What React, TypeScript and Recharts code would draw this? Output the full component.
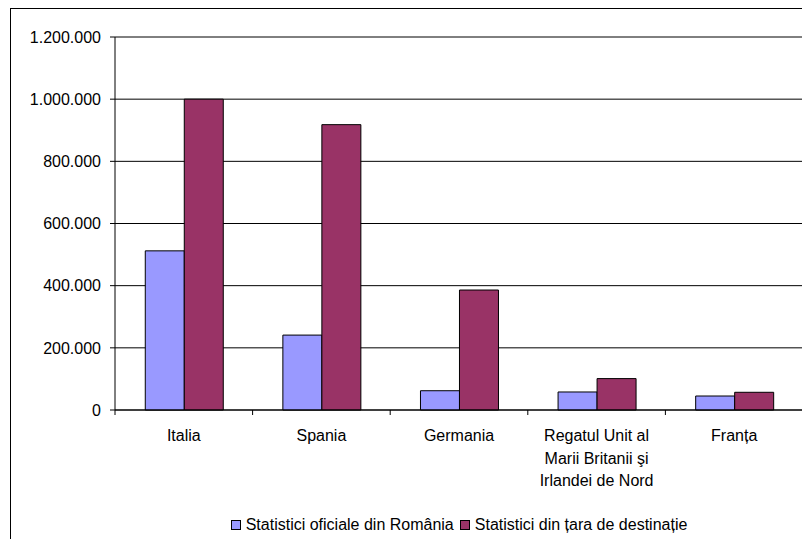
import React from 'react';
import { BarChart, Bar, XAxis, YAxis, CartesianGrid, Legend } from 'recharts';

const countries = ['Italia', 'Spania', 'Germania', 'Regatul Unit al Marii Britanii şi Irlandei de Nord', 'Franța'];
const oficialeRomania = [512000, 241000, 62000, 58000, 45000];
const taraDestinatie = [1000000, 918000, 386000, 101000, 57000];
const yTicks = [0, 200000, 400000, 600000, 800000, 1000000, 1200000];

const seriesNames = ['Statistici oficiale din România', 'Statistici din țara de destinație'];
const seriesColors = ['#9999FF', '#993366'];

const data = countries.map((c, i) => ({
    name: c,
    romania: oficialeRomania[i],
    destinatie: taraDestinatie[i],
}));

const FONT = '"Liberation Sans", Arial, sans-serif';
const CHART_W = 800;
const CHART_H = 529;
const MARGIN = { top: 28, right: 8, left: 0, bottom: 3 };
const Y_AXIS_W = 104;
const BAND = (CHART_W - MARGIN.left - MARGIN.right - Y_AXIS_W) / countries.length;

const fmt = (v: number) => String(v).replace(/\B(?=(\d{3})+(?!\d))/g, '.');

// greedy wrap for the long category names
const wrap = (s: string, max: number) => {
    const lines: string[] = [];
    let cur = '';
    s.split(' ').forEach((w) => {
        if (cur && (cur + ' ' + w).length > max) {
            lines.push(cur);
            cur = w;
        } else {
            cur = cur ? cur + ' ' + w : w;
        }
    });
    if (cur) lines.push(cur);
    return lines;
};

const CategoryTick = ({ x, y, payload, index }: any) => {
    const lines = wrap(payload.value, 17);
    const top = y - 5;
    return (
        <g>
            <line x1={x - BAND / 2} y1={top} x2={x - BAND / 2} y2={top + 5} stroke="#000" />
            {index === countries.length - 1 && (
                <line x1={x + BAND / 2} y1={top} x2={x + BAND / 2} y2={top + 5} stroke="#000" />
            )}
            <text x={x} y={y} textAnchor="middle" fill="#000" fontSize={16} fontFamily={FONT}>
                {lines.map((l, i) => (
                    <tspan key={i} x={x} dy={i === 0 ? 26 : 22.5}>{l}</tspan>
                ))}
            </text>
        </g>
    );
};

const LegendContent = () => (
    <div style={{ display: 'flex', justifyContent: 'center', alignItems: 'center', height: 20, fontFamily: FONT, fontSize: 16, color: '#000' }}>
        {seriesNames.map((n, i) => (
            <div key={n} style={{ display: 'flex', alignItems: 'center', marginRight: i === 0 ? 6 : 0 }}>
                <span style={{ display: 'inline-block', width: 8, height: 8, background: seriesColors[i], border: '1px solid #000', marginRight: 5 }} />
                <span>{n}</span>
            </div>
        ))}
    </div>
);

export default function App() {
    return (
        <div style={{ marginLeft: 2, width: 810, height: 540, border: '1px solid #000', fontFamily: FONT }}>
            <BarChart width={CHART_W} height={CHART_H} data={data} margin={MARGIN} barCategoryGap="22%" barGap={0}>
                <CartesianGrid vertical={false} stroke="#000" />
                <CartesianGrid
                    horizontal={false}
                    stroke="#808080"
                    verticalCoordinatesGenerator={({ offset }: any) => [offset.left + offset.width]}
                />
                <XAxis
                    dataKey="name"
                    height={105}
                    interval={0}
                    stroke="#000"
                    tickLine={false}
                    tickSize={5}
                    tickMargin={0}
                    tick={<CategoryTick />}
                />
                <YAxis
                    width={Y_AXIS_W}
                    domain={[0, 1200000]}
                    ticks={yTicks}
                    tickFormatter={fmt}
                    stroke="#000"
                    tickSize={5}
                    tickMargin={9}
                    tick={{ fill: '#000', fontSize: 16, fontFamily: FONT }}
                />
                <Legend
                    verticalAlign="bottom"
                    height={20}
                    content={<LegendContent />}
                    wrapperStyle={{ left: Y_AXIS_W, width: CHART_W - Y_AXIS_W - MARGIN.right }}
                />
                <Bar dataKey="romania" name={seriesNames[0]} fill={seriesColors[0]} stroke="#000" strokeWidth={1} isAnimationActive={false} />
                <Bar dataKey="destinatie" name={seriesNames[1]} fill={seriesColors[1]} stroke="#000" strokeWidth={1} isAnimationActive={false} />
            </BarChart>
        </div>
    );
}
